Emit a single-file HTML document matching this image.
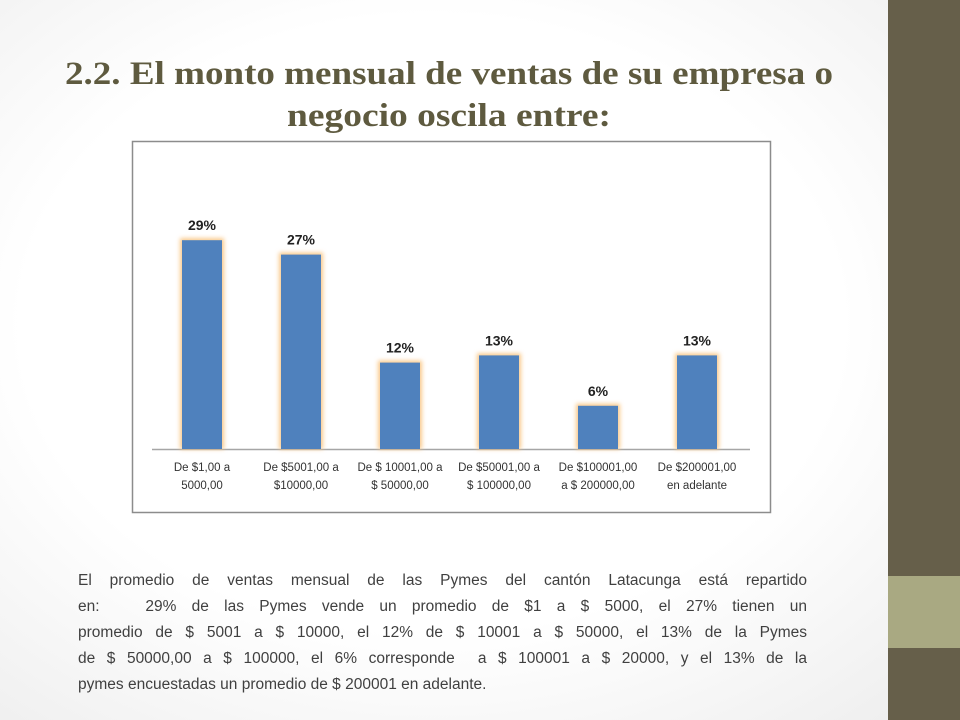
<!DOCTYPE html>
<html><head><meta charset="utf-8"><style>
body{margin:0;width:960px;height:720px;overflow:hidden;position:relative;background:radial-gradient(ellipse at 45% 45%,#ffffff 55%,#ececec 100%);font-family:"Liberation Sans",sans-serif}
.side{position:absolute;left:888px;top:0;width:72px;height:720px;background:#665f4a}
.tan{position:absolute;left:888px;top:576px;width:72px;height:72px;background:#a9a982}
.para{position:absolute;left:78px;top:568px;width:729px;font-size:15.5px;line-height:26px;color:#404040}
.para div{text-align:justify;text-align-last:justify;height:26px;white-space:nowrap}
.para div.last{text-align-last:left}
</style></head><body>
<div class="side"></div>
<div class="tan"></div>
<svg width="960" height="720" style="position:absolute;left:0;top:0">
<g font-family="Liberation Serif, serif" font-weight="bold" fill="#5e5a3f" font-size="33">
<text x="65" y="84" textLength="768" lengthAdjust="spacingAndGlyphs">2.2. El monto mensual de ventas de su empresa o</text>
<text x="287" y="126" textLength="324" lengthAdjust="spacingAndGlyphs">negocio oscila entre:</text>
</g>
<rect x="132.5" y="141.5" width="638" height="371" fill="#fff" stroke="#8c8c8c" stroke-width="1.5"/>
<defs><filter id="glow" x="-30%" y="-10%" width="160%" height="120%"><feGaussianBlur stdDeviation="2"/></filter></defs>
<g id="chart"></g>
</svg>
<div class="para">
<div>El promedio de ventas mensual de las Pymes del cantón Latacunga está repartido</div>
<div>en: &nbsp;&nbsp;29% de las Pymes vende un promedio de $1 a $ 5000, el 27% tienen un</div>
<div>promedio de $ 5001 a $ 10000, el 12% de $ 10001 a $ 50000, el 13% de la Pymes</div>
<div>de $ 50000,00 a $ 100000, el 6% corresponde &nbsp;a $ 100001 a $ 20000, y el 13% de la</div>
<div class="last">pymes encuestadas un promedio de $ 200001 en adelante.</div>
</div>
<script>
const categories1=["De $1,00 a","De $5001,00 a","De $ 10001,00 a","De $50001,00 a","De $100001,00","De $200001,00"];
const categories2=["5000,00","$10000,00","$ 50000,00","$ 100000,00","a $ 200000,00","en adelante"];
const values=[29,27,12,13,6,13];
const valueLabels=["29%","27%","12%","13%","6%","13%"];
const NS="http://www.w3.org/2000/svg";
const g=document.getElementById('chart');
const baseY=449, pxPer=7.2, x0=202, step=99, bw=40;
const xPos=i=>x0+i*step;
const yPos=v=>baseY-v*pxPer;
function mk(t,a){const e=document.createElementNS(NS,t);for(const k in a)e.setAttribute(k,a[k]);g.appendChild(e);return e;}
const ax=mk('line',{x1:152,x2:750,y1:baseY+0.5,y2:baseY+0.5,stroke:'#a6a6a6','stroke-width':1.5});


values.forEach((v,i)=>{
 const x=xPos(i)-bw/2,y=yPos(v);
 const gl=mk('rect',{x:x-2,y:y-2,width:bw+4,height:baseY-y+2,fill:'#f9c98a',filter:'url(#glow)'});
 
 
 const b=mk('rect',{x:x,y:y,width:bw,height:baseY-y,fill:'#4f81bd'});
 
 
 const t=mk('text',{x:xPos(i),y:y-10,'text-anchor':'middle','font-size':14,'font-weight':'bold',fill:'#222'});
 t.textContent=valueLabels[i];
 
 
 const c1=mk('text',{x:xPos(i),y:471,'text-anchor':'middle','font-size':11.5,fill:'#333'});
 c1.textContent=categories1[i];
 
 
 const c2=mk('text',{x:xPos(i),y:489,'text-anchor':'middle','font-size':11.5,fill:'#333'});
 c2.textContent=categories2[i];
 
 
});
</script>
</body></html>
